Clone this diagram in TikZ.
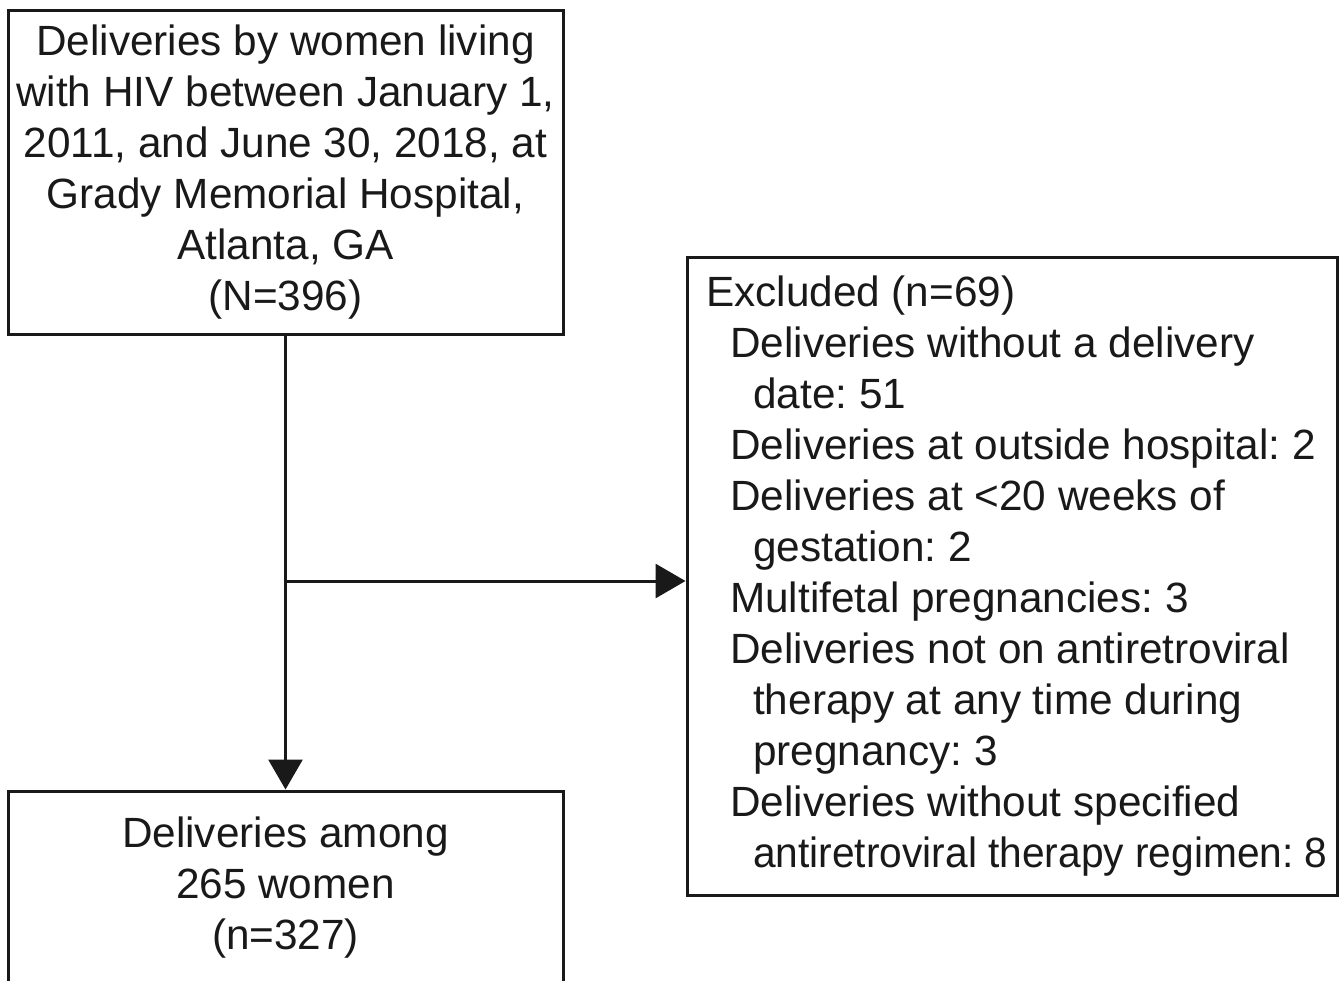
\documentclass[tikz,border=0pt]{standalone}
\usepackage{fontspec}
\usepackage{graphicx}
\setmainfont{Liberation Sans}
\usetikzlibrary{arrows.meta}
\frenchspacing
\begin{document}
\begin{tikzpicture}[x=1pt,y=-1pt,
  box/.style={draw=black!90, line width=3pt, inner sep=0pt},
  txt/.style={font=\frenchspacing\fontsize{42.3}{51}\selectfont, text=black!90, inner sep=0pt},
  arr/.style={draw=black!90, line width=3pt, -{Triangle[length=30pt,width=34pt]}}]
\useasboundingbox[fill=white] (0,0) rectangle (1344,980);
\node[box, txt, minimum width=555pt, minimum height=324pt, align=center] (src) at (285.5,172)
  {Deliveries by women living\\with HIV between January 1,\\2011, and June 30, 2018, at\\Grady Memorial Hospital,\\Atlanta, GA\\(N=396)};
\node[box, txt, minimum width=555pt, minimum height=194pt, align=center] (inc) at (285.5,888)
  {Deliveries among\\265 women\\(n=327)};
\node[box, minimum width=650pt, minimum height=638pt] (ex) at (1012,576) {};
\node[txt, anchor=west, align=left] (extext) at (706,576)
  {Excluded (n=69)\\
   \hspace*{24pt}Deliveries without a delivery\\
   \hspace*{47pt}date: 51\\
   \hspace*{24pt}Deliveries at outside hospital: 2\\
   \hspace*{24pt}Deliveries at <20 weeks of\\
   \hspace*{47pt}gestation: 2\\
   \hspace*{24pt}Multifetal pregnancies: 3\\
   \hspace*{24pt}Deliveries not on antiretroviral\\
   \hspace*{47pt}therapy at any time during\\
   \hspace*{47pt}pregnancy: 3\\
   \hspace*{24pt}Deliveries without specified\\
   \hspace*{47pt}\scalebox{0.962}[1]{antiretroviral therapy regimen: 8}};
\coordinate (j) at (285.5,581);
\draw[arr] (src.south) -- (inc.north);
\draw[arr] (j) -- (j -| ex.west);
\end{tikzpicture}
\end{document}
